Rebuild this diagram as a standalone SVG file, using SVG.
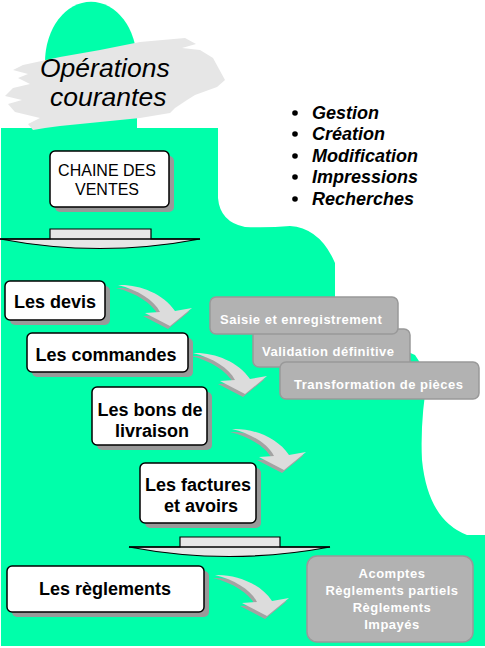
<svg xmlns="http://www.w3.org/2000/svg" xmlns:xlink="http://www.w3.org/1999/xlink" width="485" height="648" viewBox="0 0 485 648">
<style>
.bg{fill:#00ffaa}
.brush{fill:#e6e6e6}
.title{font-family:"Liberation Sans",Arial,sans-serif;font-style:italic;font-size:26.5px;fill:#000}
.bul{font-family:"Liberation Sans",Arial,sans-serif;font-style:italic;font-weight:bold;font-size:18px;fill:#000}
.wbox{fill:#fff;stroke:#000;stroke-width:1.5}
.shadow{fill:#999}
.wtxt{font-family:"Liberation Sans",Arial,sans-serif;font-weight:bold;font-size:18px;fill:#000;text-anchor:middle}
.ntxt{font-family:"Liberation Sans",Arial,sans-serif;font-size:16px;fill:#000;text-anchor:middle}
.gbox{fill:#b2b2b2;stroke:#999;stroke-width:1.5}
.gtxt{font-family:"Liberation Sans",Arial,sans-serif;font-weight:bold;font-size:13px;fill:#fff;letter-spacing:0.5px}
.gtxtc{font-family:"Liberation Sans",Arial,sans-serif;font-weight:bold;font-size:13px;fill:#fff;letter-spacing:0.5px;text-anchor:middle}
.wide{fill:#e6e6e6;stroke:#000;stroke-width:1.2}
.sw{fill:#dcdcdc}
.swsh{fill:#a3a3a3}
</style>
<defs>
<g id="swoosh">
<path class="swsh" transform="translate(-2,3)" d="M0,0 C20,-1 45,8 57,26 L74,23 L52,41 L27,28 L42,27 C36,15 20,5 0,0 Z"/>
<path class="sw" d="M0,0 C20,-1 45,8 57,26 L74,23 L52,41 L27,28 L42,27 C36,15 20,5 0,0 Z"/>
</g>
</defs>

<g id="background">
<path class="bg" d="M45,130 V62 A45,59 0 0 1 137,62 V130 Z"/>
<path class="bg" d="M1,128 H218 V198 Q220,222 245,227 Q268,228 290,226 Q320,228 335,263 V320 L415,355 L428,375 Q420,420 422,460 Q428,520 467,535 H485 V646 H1 Z"/>
<path class="brush" d="M23,65 L60,57 L100,50 L140,42 L185,38 L196,44 L182,48 L200,50 L213,58 L225,80 L217,87 L195,95 L187,100 L175,108 L170,113 L140,118 L100,122 L80,124 L60,126 L45,128 L33,130 L28,124 L40,118 L15,112 L8,104 L22,100 L5,96 L13,88 L30,84 L18,78 L28,74 L13,70 Z"/>
<text class="title" x="40" y="77">Opérations</text>
<text class="title" x="50" y="106">courantes</text>
</g>

<g id="bullets">
<circle cx="295" cy="113" r="2.8"/>
<circle cx="295" cy="134" r="2.8"/>
<circle cx="295" cy="156" r="2.8"/>
<circle cx="295" cy="177" r="2.8"/>
<circle cx="295" cy="199" r="2.8"/>
<text class="bul" x="312" y="119">Gestion</text>
<text class="bul" x="312" y="140">Création</text>
<text class="bul" x="312" y="162">Modification</text>
<text class="bul" x="312" y="183">Impressions</text>
<text class="bul" x="312" y="205">Recherches</text>
</g>

<g id="chaine">
<rect class="shadow" x="55" y="156" width="119" height="56" rx="5"/>
<rect class="wbox" x="50" y="151" width="119" height="56" rx="5"/>
<text class="ntxt" x="107" y="176">CHAINE DES</text>
<text class="ntxt" x="107" y="195">VENTES</text>
</g>

<g id="connectors">
<path class="wide" d="M0,239 H50 V229 H151 V239 H200 Q100,258 0,239 Z"/>
<line x1="0" y1="239" x2="200" y2="239" stroke="#000" stroke-width="1.5"/>
<path class="wide" d="M129,547 H180 V537 H280 V547 H330 Q229,566 129,547 Z"/>
<line x1="129" y1="547" x2="330" y2="547" stroke="#000" stroke-width="1.5"/>
<use xlink:href="#swoosh" x="118" y="285"/>
<use xlink:href="#swoosh" x="193" y="353"/>
<use xlink:href="#swoosh" x="232" y="429"/>
<use xlink:href="#swoosh" x="215" y="575"/>
</g>

<g id="devis">
<rect class="shadow" x="10" y="286" width="100" height="39" rx="5"/>
<rect class="wbox" x="5" y="281" width="100" height="39" rx="5"/>
<text class="wtxt" x="55" y="308">Les devis</text>
</g>

<g id="commandes">
<rect class="shadow" x="32" y="338" width="161" height="39" rx="5"/>
<rect class="wbox" x="27" y="333" width="161" height="39" rx="5"/>
<text class="wtxt" x="106" y="361">Les commandes</text>
</g>

<g id="livraison">
<rect class="shadow" x="97" y="392" width="115" height="58" rx="5"/>
<rect class="wbox" x="92" y="387" width="115" height="58" rx="5"/>
<text class="wtxt" x="150" y="416">Les bons de</text>
<text class="wtxt" x="152" y="437">livraison</text>
</g>

<g id="factures">
<rect class="shadow" x="145" y="468" width="116" height="60" rx="5"/>
<rect class="wbox" x="140" y="463" width="116" height="60" rx="5"/>
<text class="wtxt" x="198" y="491">Les factures</text>
<text class="wtxt" x="201" y="512">et avoirs</text>
</g>

<g id="reglements">
<rect class="shadow" x="12" y="571" width="197" height="46" rx="5"/>
<rect class="wbox" x="7" y="566" width="197" height="46" rx="5"/>
<text class="wtxt" x="105" y="595">Les règlements</text>
</g>

<g id="validation">
<rect class="gbox" x="253" y="329" width="157" height="38" rx="6"/>
<text class="gtxt" x="262" y="356">Validation définitive</text>
</g>

<g id="saisie">
<rect class="gbox" x="210" y="297" width="188" height="37" rx="6"/>
<text class="gtxt" x="220" y="324">Saisie et enregistrement</text>
</g>

<g id="transformation">
<rect class="gbox" x="280" y="362" width="199" height="37" rx="6"/>
<text class="gtxt" x="294" y="389">Transformation de pièces</text>
</g>

<g id="acomptes">
<rect class="gbox" x="307" y="556" width="166" height="86" rx="10"/>
<text class="gtxtc" x="392" y="578">Acomptes</text>
<text class="gtxtc" x="392" y="595">Règlements partiels</text>
<text class="gtxtc" x="392" y="612">Règlements</text>
<text class="gtxtc" x="392" y="629">Impayés</text>
</g>
</svg>
